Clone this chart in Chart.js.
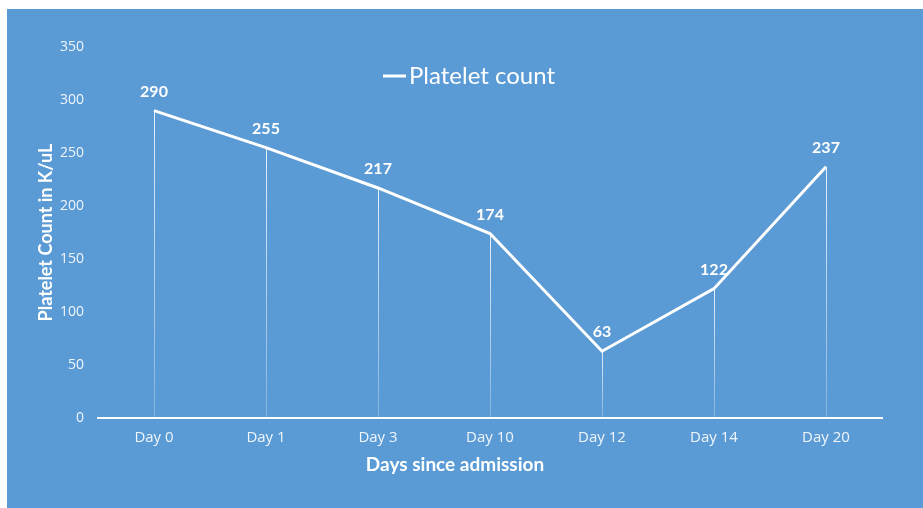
<!DOCTYPE html>
<html>
<head>
    <title>Platelet count</title>
    <style>
        body {
            margin: 0;
            background: #ffffff;
        }
        .wrap {
            position: absolute;
            left: 7px;
            top: 9px;
            width: 916px;
            height: 499px;
            background: #5b9bd5;
        }
    </style>
</head>
<body>
    <div class="wrap">
        <canvas id="plateletChart" width="916" height="499"></canvas>
    </div>

    <script src="https://cdn.jsdelivr.net/npm/chart.js"></script>
    <script>
        const days = ['Day 0', 'Day 1', 'Day 3', 'Day 10', 'Day 12', 'Day 14', 'Day 20'];
        const plateletCount = [290, 255, 217, 174, 63, 122, 237];
        const yTicks = [0, 50, 100, 150, 200, 250, 300, 350];

        const tickColor = 'rgba(255, 255, 255, 0.9)';

        // vertical drop lines, value labels, legend and x title
        const extrasPlugin = {
            id: 'extras',
            beforeDatasetsDraw(chart) {
                const ctx = chart.ctx;
                const meta = chart.getDatasetMeta(0);
                const bottom = chart.scales.y.getPixelForValue(0);
                ctx.save();
                meta.data.forEach(pt => {
                    const grad = ctx.createLinearGradient(0, pt.y, 0, bottom);
                    grad.addColorStop(0, 'rgba(255,255,255,0.85)');
                    grad.addColorStop(1, 'rgba(255,255,255,0.25)');
                    ctx.strokeStyle = grad;
                    ctx.lineWidth = 1;
                    ctx.beginPath();
                    ctx.moveTo(Math.round(pt.x) + 0.5, pt.y);
                    ctx.lineTo(Math.round(pt.x) + 0.5, bottom);
                    ctx.stroke();
                });
                ctx.restore();
            },
            afterDatasetsDraw(chart) {
                const ctx = chart.ctx;
                const meta = chart.getDatasetMeta(0);
                const data = chart.data.datasets[0].data;
                ctx.save();
                ctx.fillStyle = '#ffffff';
                ctx.font = 'bold 16px Lato';
                ctx.textAlign = 'center';
                ctx.textBaseline = 'middle';
                meta.data.forEach((pt, i) => {
                    ctx.fillText(data[i], pt.x, pt.y - 19);
                });

                // legend
                const label = chart.data.datasets[0].label;
                ctx.font = '24px Lato';
                ctx.textAlign = 'left';
                ctx.strokeStyle = '#ffffff';
                ctx.lineWidth = 3;
                ctx.beginPath();
                ctx.moveTo(376, 67);
                ctx.lineTo(399, 67);
                ctx.stroke();
                ctx.fillText(label, 402, 67);

                // x axis title
                ctx.font = 'bold 19px Lato';
                ctx.textAlign = 'center';
                ctx.fillText('Days since admission', 448, 456);
                ctx.restore();
            }
        };

        const ctx = document.getElementById('plateletChart').getContext('2d');
        new Chart(ctx, {
            type: 'line',
            data: {
                labels: days,
                datasets: [{
                    label: 'Platelet count',
                    data: plateletCount,
                    borderColor: '#ffffff',
                    borderWidth: 3,
                    pointRadius: 0,
                    tension: 0
                }]
            },
            options: {
                responsive: false,
                animation: false,
                layout: {
                    padding: { left: 0, right: 41, top: 38, bottom: 0 }
                },
                plugins: {
                    legend: { display: false },
                    tooltip: { enabled: false }
                },
                scales: {
                    x: {
                        offset: true,
                        grid: { display: false, drawTicks: false },
                        border: { display: true, color: '#ffffff', width: 2 },
                        ticks: {
                            color: tickColor,
                            font: { family: 'Open Sans', size: 15 },
                            padding: 11,
                            maxRotation: 0
                        },
                        afterFit(scale) { scale.height = 90; }
                    },
                    y: {
                        min: 0,
                        max: 350,
                        afterBuildTicks(scale) {
                            scale.ticks = yTicks.map(v => ({ value: v }));
                        },
                        grid: { display: false, drawTicks: false },
                        border: { display: false },
                        ticks: {
                            color: tickColor,
                            font: { family: 'Open Sans', size: 14 },
                            padding: 14
                        },
                        title: {
                            display: true,
                            text: 'Platelet Count in K/uL',
                            color: '#ffffff',
                            font: { family: 'Lato', size: 18, weight: 'bold' },
                            padding: { top: 28, bottom: 0 }
                        },
                        afterFit(scale) { scale.width = 91; }
                    }
                }
            },
            plugins: [extrasPlugin]
        });
    </script>
</body>
</html>
